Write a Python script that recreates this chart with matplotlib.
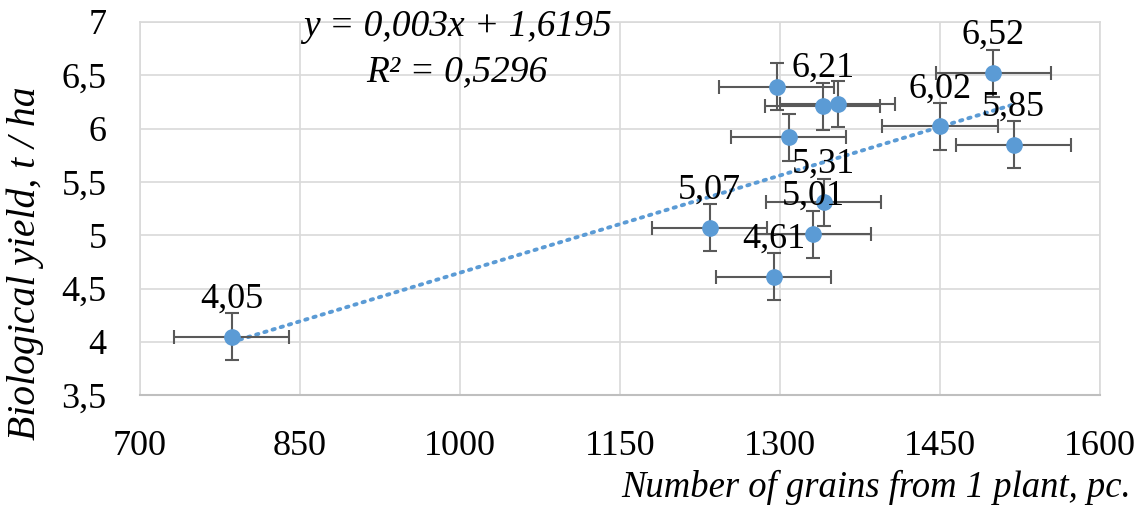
import numpy as np
import matplotlib
matplotlib.use("Agg")
import matplotlib.pyplot as plt
from matplotlib.ticker import FuncFormatter

# Data
grains = [786, 1234, 1294, 1331, 1341, 1297, 1340, 1354, 1308, 1450, 1500, 1519]
yields = [4.05, 5.07, 4.61, 5.01, 5.31, 6.39, 6.21, 6.23, 5.92, 6.02, 6.52, 5.85]
labels = ["4,05", "5,07", "4,61", "5,01", "5,31", "", "6,21", "", "", "6,02", "6,52", "5,85"]
x_err = [54] * 12
y_err = [0.22] * 12
x_ticks = [700, 850, 1000, 1150, 1300, 1450, 1600]
y_ticks = [3.5, 4, 4.5, 5, 5.5, 6, 6.5, 7]
equation = "y = 0,003x + 1,6195"
r2_text = "R² = 0,5296"

serif = ["Liberation Serif", "DejaVu Serif"]
plt.rcParams['font.family'] = serif

fig = plt.figure(figsize=(11.46, 5.08), dpi=100)
ax = fig.add_axes([0.122, 0.222, 0.838, 0.735])

blue = "#5B9BD5"
ax.errorbar(grains, yields, xerr=x_err, yerr=y_err, fmt='none',
            ecolor="#595959", elinewidth=1.5, capsize=5, capthick=1.5, zorder=3)
ax.plot(grains, yields, 'o', color=blue, markersize=11, zorder=4)

# trendline
coef = np.polyfit(grains, yields, 1)
xs = np.linspace(min(grains), max(grains), 100)
ax.plot(xs, np.polyval(coef, xs), color=blue, linestyle=(0, (0.6, 1.6)),
        linewidth=2.8, dash_capstyle='round', zorder=2)

for x, y, lab in zip(grains, yields, labels):
    if lab:
        ax.annotate(lab, (x, y), xytext=(0, 27), textcoords='offset points',
                    ha='center', va='center', fontsize=26, color='black', zorder=5)

ax.set_xlim(700, 1600)
ax.set_ylim(3.5, 7)
ax.set_xticks(x_ticks)
ax.set_yticks(y_ticks)
ax.yaxis.set_major_formatter(FuncFormatter(lambda v, p: (f"{v:g}").replace('.', ',')))
ax.tick_params(axis='both', length=0, labelsize=26)
ax.tick_params(axis='x', pad=25)
ax.tick_params(axis='y', pad=24)
ax.grid(True, color="#d9d9d9", linewidth=1.2)
ax.set_axisbelow(True)
for s in ['top', 'right', 'left']:
    ax.spines[s].set_color("#d9d9d9")
    ax.spines[s].set_linewidth(1.2)
ax.spines['bottom'].set_color("#bfbfbf")
ax.spines['bottom'].set_linewidth(1.5)

fig.text(0.399, 0.947, equation, ha='center', va='center', fontsize=27, style='italic')
fig.text(0.399, 0.858, r2_text, ha='center', va='center', fontsize=27, style='italic')

fig.text(0.022, 0.482, "Biological yield, t / ha", rotation=90, ha='center', va='center',
         fontsize=28.5, style='italic')
fig.text(0.987, 0.04, "Number of grains from 1 plant, pc.", ha='right', va='center',
         fontsize=26.4, style='italic')

fig.savefig("out.png", dpi=100)
